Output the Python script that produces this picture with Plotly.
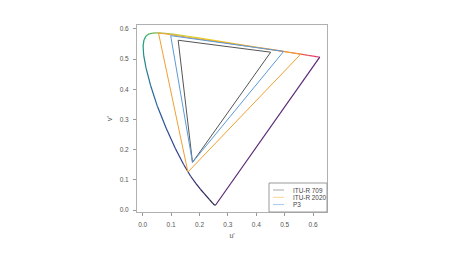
import plotly.graph_objects as go

# CIE 1976 spectral locus (u', v') at selected wavelengths (nm)
wavelengths = [380, 400, 420, 430, 440, 450, 455, 460, 465, 470, 475, 480, 485,
               490, 495, 500, 505, 510, 515, 520, 525, 530, 540, 550, 560, 570,
               580, 590, 600, 610, 620, 630, 640, 650, 660, 680, 700]
locus_u = [0.2568, 0.2557, 0.2522, 0.2461, 0.2347, 0.2161, 0.2033, 0.1877, 0.1690,
           0.1441, 0.1147, 0.0828, 0.0521, 0.0282, 0.0119, 0.0035, 0.0014, 0.0046,
           0.0123, 0.0231, 0.0360, 0.0501, 0.0792, 0.1127, 0.1531, 0.2026, 0.2623,
           0.3315, 0.4035, 0.4692, 0.5203, 0.5565, 0.5830, 0.6005, 0.6109, 0.6199, 0.6234]
locus_v = [0.0166, 0.0159, 0.0169, 0.0226, 0.0350, 0.0549, 0.0688, 0.0871, 0.1119,
           0.1510, 0.2044, 0.2708, 0.3427, 0.4117, 0.4698, 0.5131, 0.5432, 0.5638,
           0.5770, 0.5837, 0.5861, 0.5868, 0.5856, 0.5821, 0.5766, 0.5694, 0.5604,
           0.5501, 0.5393, 0.5296, 0.5219, 0.5165, 0.5125, 0.5099, 0.5084, 0.5070, 0.5065]

# Gamut triangles (R, G, B primaries in u', v')
gamut_names = ["ITU-R 709", "ITU-R 2020", "P3"]
rec709_u = [0.4507, 0.1250, 0.1754]
rec709_v = [0.5229, 0.5625, 0.1579]
rec2020_u = [0.5566, 0.0556, 0.1593]
rec2020_v = [0.5165, 0.5868, 0.1258]
p3_u = [0.4964, 0.0986, 0.1754]
p3_v = [0.5256, 0.5777, 0.1579]

x_ticks = [0.0, 0.1, 0.2, 0.3, 0.4, 0.5, 0.6]
y_ticks = [0.0, 0.1, 0.2, 0.3, 0.4, 0.5, 0.6]

# styles
locus_colors = ["#0c0c14", "#111020", "#16142e", "#1c1a40", "#241f52", "#2a2460",
                "#2e2a6c", "#302f76", "#30367e", "#2e3e88", "#2c4892", "#2a5698",
                "#286898", "#267a94", "#22888e", "#1c9488", "#1ea07e", "#2aa872",
                "#40ae64", "#5cb254", "#76b648", "#90bc3c", "#acc434", "#c6cc2c",
                "#dcd226", "#ead024", "#f0c226", "#f2ae2e", "#f29836", "#ee7e40",
                "#ea684c", "#e65658", "#e24664", "#dc386e", "#d62c76", "#cc247c"]
purple_color = "#5a2876"
gamut_colors = ["#555555", "#f0a030", "#5b9ad8"]
legend_colors = ["#a8a8a8", "#f5d49a", "#a9c6ee"]

fig = go.Figure()

for i in range(len(locus_u) - 1):
    fig.add_trace(go.Scatter(
        x=[locus_u[i], locus_u[i + 1]], y=[locus_v[i], locus_v[i + 1]],
        mode="lines", line=dict(color=locus_colors[i], width=1.2),
        showlegend=False, hoverinfo="skip"))

fig.add_trace(go.Scatter(
    x=[locus_u[-1], locus_u[0]], y=[locus_v[-1], locus_v[0]],
    mode="lines", line=dict(color=purple_color, width=1.2),
    showlegend=False, hoverinfo="skip"))

for name, gu, gv, col in zip(gamut_names,
                             [rec709_u, rec2020_u, p3_u],
                             [rec709_v, rec2020_v, p3_v],
                             gamut_colors):
    fig.add_trace(go.Scatter(
        x=gu + [gu[0]], y=gv + [gv[0]], mode="lines", name=name,
        line=dict(color=col, width=1.0), showlegend=False))

# manual compact legend (R-style)
px0, px1, py0, py1 = 137.0, 327.0, 25.0, 212.0
def xp(p):
    return (p - px0) / (px1 - px0)
def yp(p):
    return (py1 - p) / (py1 - py0)

fig.add_shape(type="rect", xref="paper", yref="paper",
              x0=xp(269), x1=1.0, y0=0.0, y1=yp(183),
              line=dict(color="#999999", width=1), fillcolor="white")
rows = [190.0, 197.3, 204.6]
for name, col, ry in zip(gamut_names, legend_colors, rows):
    fig.add_shape(type="line", xref="paper", yref="paper",
                  x0=xp(273), x1=xp(284), y0=yp(ry), y1=yp(ry),
                  line=dict(color=col, width=1))
    fig.add_annotation(xref="paper", yref="paper", x=xp(291), y=yp(ry),
                       text=name, showarrow=False, xanchor="left", yanchor="middle",
                       font=dict(size=6.4, color="#444444",
                                 family="Liberation Sans, Arial, sans-serif"))

axis_font = dict(size=6.5, color="#555555", family="Liberation Sans, Arial, sans-serif")
fig.update_layout(
    width=450, height=254,
    margin=dict(l=137, r=123, t=25, b=42),
    paper_bgcolor="white", plot_bgcolor="white",
    showlegend=False,
    font=axis_font,
    xaxis=dict(range=[-0.020, 0.649], tickvals=x_ticks,
               ticktext=[f"{t:.1f}" for t in x_ticks],
               ticks="outside", ticklen=3, tickcolor="#999999", tickwidth=1,
               showline=True, mirror=True, linecolor="#b0b0b0", linewidth=1,
               showgrid=False, zeroline=False, ticklabelstandoff=3,
               tickfont=axis_font,
               title=dict(text="u'", font=dict(size=7, color="#555555"), standoff=6)),
    yaxis=dict(range=[-0.0066, 0.613], tickvals=y_ticks,
               ticktext=[f"{t:.1f}" for t in y_ticks],
               ticks="outside", ticklen=3, tickcolor="#999999", tickwidth=1,
               showline=True, mirror=True, linecolor="#b0b0b0", linewidth=1,
               showgrid=False, zeroline=False, ticklabelstandoff=3,
               tickfont=axis_font,
               title=dict(text="v'", font=dict(size=7, color="#555555"), standoff=6)),
)

fig.write_html("out.html")
